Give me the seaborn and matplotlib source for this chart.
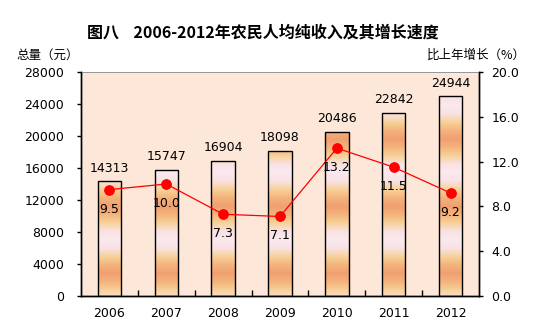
import numpy as np
import pandas as pd
import matplotlib
matplotlib.use("Agg")
import matplotlib.pyplot as plt
from matplotlib.colors import LinearSegmentedColormap
from matplotlib.ticker import MultipleLocator, FixedLocator, FormatStrFormatter
import seaborn as sns

years = ["2006", "2007", "2008", "2009", "2010", "2011", "2012"]
income = [14313, 15747, 16904, 18098, 20486, 22842, 24944]
growth = [9.5, 10.0, 7.3, 7.1, 13.2, 11.5, 9.2]

title = "图八    2006-2012年农民人均纯收入及其增长速度"
left_label = "总量（元）"
right_label = "比上年增长（%）"

sns.set_theme(style="white")
plt.rcParams["font.family"] = ["DejaVu Sans", "Noto Sans CJK SC"]
plt.rcParams["text.color"] = "black"
plt.rcParams["xtick.color"] = "black"
plt.rcParams["ytick.color"] = "black"
plt.rcParams["axes.labelcolor"] = "black"

df = pd.DataFrame({"year": years, "income": income, "growth": growth})

fig = plt.figure(figsize=(5.59, 3.30), dpi=100)
fig.patch.set_facecolor("white")
ax = fig.add_axes([81 / 559, 34 / 330, 398 / 559, 224 / 330])
ax.set_facecolor("#fde7d8")

sns.barplot(data=df, x="year", y="income", ax=ax, width=0.41,
            facecolor="none", edgecolor="black", linewidth=1.0, zorder=3)

# gradient fill inside bars
cmap = LinearSegmentedColormap.from_list(
    "band", ["#f0a072", "#f4b47c", "#f7d29a", "#f9e2e4", "#fae9ee",
             "#f9e2e4", "#f7d29a", "#f4b47c", "#f0a072"])
ax.set_xlim(-0.5, 6.5)
ax.set_ylim(0, 28000)
ax.set_autoscale_on(False)
vals = np.linspace(0, 28000, 600)
phase = ((vals - 2800) / 8400.0) % 1.0
img = phase[::-1].reshape(-1, 1)
container = ax.containers[0]
for patch in container.patches:
    x0 = patch.get_x()
    w = patch.get_width()
    im = ax.imshow(img, cmap=cmap, vmin=0, vmax=1, aspect="auto",
                   extent=[x0, x0 + w, 0, 28000], zorder=2,
                   interpolation="bilinear")
    im.set_clip_path(patch)
ax.bar_label(container, labels=[str(v) for v in income], padding=5,
             fontsize=9, color="black")

ax.set_ylim(0, 28000)
ax.yaxis.set_major_locator(MultipleLocator(4000))
ax.set_xlabel("")
ax.set_ylabel("")
ax.tick_params(axis="y", which="major", direction="out", length=3,
               width=1, color="black", labelsize=9, pad=9)
ax.tick_params(axis="x", which="major", length=0, labelsize=9, pad=8)
ax.xaxis.set_minor_locator(FixedLocator(np.arange(0.5, 6.5, 1.0)))
ax.tick_params(axis="x", which="minor", direction="in", length=4,
               width=1, color="black", bottom=True)

for s in ["left", "bottom", "right"]:
    ax.spines[s].set_color("black")
    ax.spines[s].set_linewidth(1)
ax.spines["top"].set_color("#888888")
ax.spines["top"].set_linewidth(0.6)

ax2 = ax.twinx()
sns.pointplot(data=df, x="year", y="growth", ax=ax2, color="#ff0000",
              markers="o", markersize=7, linewidth=0.9, errorbar=None)
ax2.set_xlim(-0.5, 6.5)
ax2.set_ylim(0, 20)
ax2.yaxis.set_major_locator(MultipleLocator(4))
ax2.yaxis.set_major_formatter(FormatStrFormatter("%.1f"))
ax2.set_ylabel("")
ax2.set_xlabel("")
ax2.tick_params(axis="y", direction="out", length=3, width=1,
                color="black", labelsize=9, pad=6)
for s in ["left", "bottom", "right"]:
    ax2.spines[s].set_color("black")
    ax2.spines[s].set_linewidth(1)
ax2.spines["top"].set_visible(False)

for i, g in enumerate(growth):
    ax2.annotate(f"{g:.1f}", (i, g), xytext=(0, -14), textcoords="offset points",
                 ha="center", va="center", fontsize=9, color="black")

fig.text(263 / 559, 1 - 33 / 330, title, ha="center", va="center",
         fontsize=11.5, fontweight="bold", color="black",
         family=["Noto Sans CJK SC", "DejaVu Sans"])
fig.text(16 / 559, 1 - 55 / 330, left_label, ha="left", va="center",
         fontsize=9, family=["Noto Sans CJK SC", "DejaVu Sans"])
fig.text(526 / 559, 1 - 55 / 330, right_label, ha="right", va="center",
         fontsize=9, family=["Noto Sans CJK SC", "DejaVu Sans"])

fig.savefig("out.png", dpi=100)
